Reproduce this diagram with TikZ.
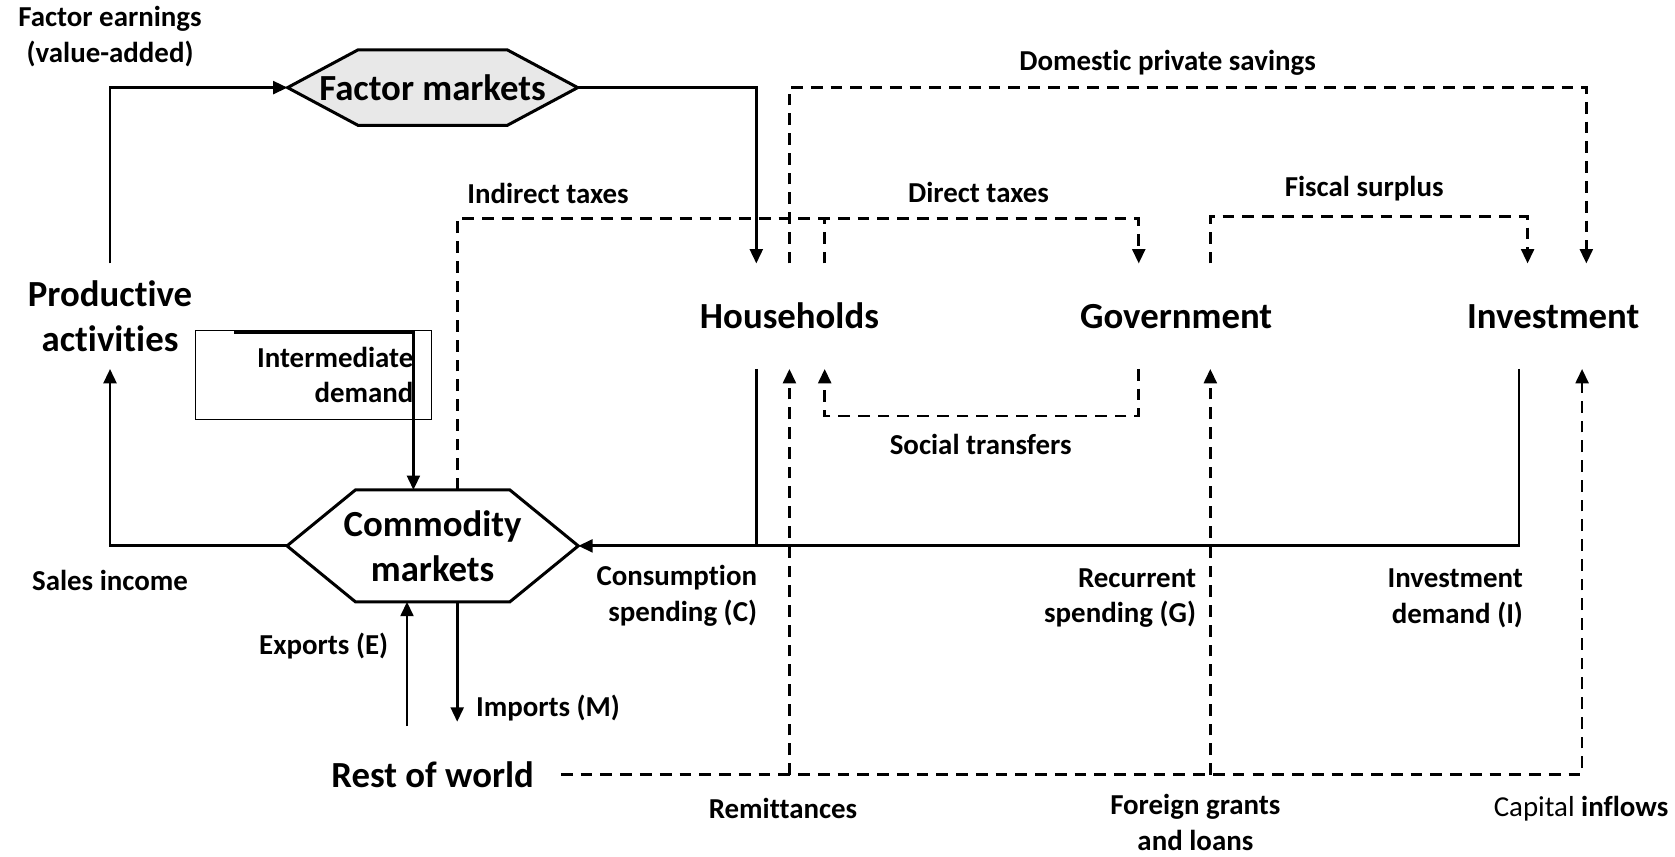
\documentclass[tikz,border=0pt]{standalone}
\usepackage{fontspec}
\setmainfont{Carlito}[RawFeature={-liga;-clig;-calt;-dlig}]
\usetikzlibrary{arrows.meta,calc,backgrounds}

\begin{document}
\begin{tikzpicture}[x=0.02cm,y=-0.02cm,
    >={Triangle[length=0.27cm,width=0.24cm]},
    big/.style={font=\bfseries\fontsize{19.6}{23.9}\selectfont,align=center,inner sep=0pt},
    lbl/.style={font=\bfseries\fontsize{15.4}{19}\selectfont,align=center,inner sep=0pt},
    agent/.style={big,minimum height=1.96cm},
    flow/.style={line width=1.5pt,->},
    dflow/.style={line width=1.5pt,dash pattern=on 0.22cm off 0.15cm,->},
    hexline/.style={line width=1.6pt,line join=miter}]
        \useasboundingbox (0,0) rectangle (1568,802);

        \node[agent] (pa) at (103,296) {Productive\\activities};
        \node[agent] (hh) at (739,296) {Households};
        \node[agent] (gv) at (1101,296) {Government};
        \node[agent] (iv) at (1454,296) {Investment};
        \node[big,inner xsep=0.5cm,minimum height=1.8cm] (rw) at (405,725) {Rest of world};
        \node[big,minimum width=5.42cm,minimum height=1.4cm] (fm) at (405,82) {Factor markets};
        \node[big,minimum width=5.44cm,minimum height=2.08cm] (cm) at (405,511) {Commodity\\markets};
        \node[lbl,draw,line width=0.6pt,align=right,text width=3.74cm,inner xsep=0.34cm,minimum height=1.68cm] (idm) at (293.5,351) {Intermediate\\demand};

        \begin{scope}[on background layer]
        \filldraw[hexline,fill=gray!18] (fm.west) -- ($(fm.north west)+(66,0)$) -- ($(fm.north east)+(-66,0)$) -- (fm.east) -- ($(fm.south east)+(-66,0)$) -- ($(fm.south west)+(66,0)$) -- cycle;
        \draw[hexline] (cm.west) -- ($(cm.north west)+(64,0)$) -- ($(cm.north east)+(-64,0)$) -- (cm.east) -- ($(cm.south east)+(-64,0)$) -- ($(cm.south west)+(64,0)$) -- cycle;
        \end{scope}

        \node[lbl] (fe) at (103,34) {Factor earnings\\(value-added)};
        \node[lbl] (si) at (103,543) {Sales income};
        \node[lbl] (it) at (513,181) {Indirect taxes};
        \node[lbl] (dt) at (916,180) {Direct taxes};
        \node[lbl] (dps) at (1093,59) {Domestic private savings};
        \node[lbl] (fs) at (1277,177) {Fiscal surplus};
        \node[lbl] (st) at (918,416) {Social transfers};
        \node[lbl,align=right,anchor=east] (cs) at (709,558) {Consumption\\spending (C)};
        \node[lbl,align=right,anchor=east] (rs) at (1120,560) {Recurrent\\spending (G)};
        \node[lbl,align=right,anchor=east] (idd) at (1426,560) {Investment\\demand (I)};
        \node[lbl] (ex) at (303,605) {Exports (E)};
        \node[lbl] (im) at (513,663) {Imports (M)};
        \node[lbl] (rem) at (733,757) {Remittances};
        \node[lbl] (fgl) at (1119,770) {Foreign grants\\and loans};
        \node[lbl] (ci) at (1480,757) {{\mdseries Capital} inflows};

        \coordinate (idstart) at ($(idm.north west)+(37,3)$);

        \draw[flow] (pa.north) |- (fm.west);
        \draw[flow] (fm.east) -| ($(hh.north)+(-31,0)$);
        \draw[flow] (cm.west) -| (pa.south);
        \draw[flow] (idstart) -| ($(cm.north)+(-18,0)$);
        \draw[dflow] ($(cm.north)+(23,0)$) |- ($(gv.north)+(-35,-42)$) -- ($(gv.north)+(-35,0)$);
        \draw[dflow,-] ($(hh.north)+(33,0)$) -- ($(hh.north)+(33,-42)$);
        \draw[dflow] (hh.north) |- ($(iv.north)+(31,-165)$) -- ($(iv.north)+(31,0)$);
        \draw[dflow] ($(gv.north)+(32,0)$) |- ($(iv.north)+(-24,-44)$) -- ($(iv.north)+(-24,0)$);
        \draw[dflow] ($(gv.south)+(-35,0)$) |- ($(hh.south)+(33,44)$) -- ($(hh.south)+(33,0)$);
        \draw[flow] ($(iv.south)+(-32,0)$) |- (cm.east);
        \draw[flow,-] ($(hh.south)+(-31,0)$) -- ($(hh.south)+(-31,166)$);
        \draw[dflow] (rw.east) -| ($(iv.south)+(27,0)$);
        \draw[dflow] ($(hh.south)+(0,380)$) -- (hh.south);
        \draw[dflow] ($(gv.south)+(32,380)$) -- ($(gv.south)+(32,0)$);
        \draw[flow] ($(rw.north)+(-24,0)$) -- ($(cm.south)+(-24,0)$);
        \draw[flow] ($(cm.south)+(23,0)$) -- ($(rw.north)+(23,-4)$);
    \end{tikzpicture}
\end{document}
